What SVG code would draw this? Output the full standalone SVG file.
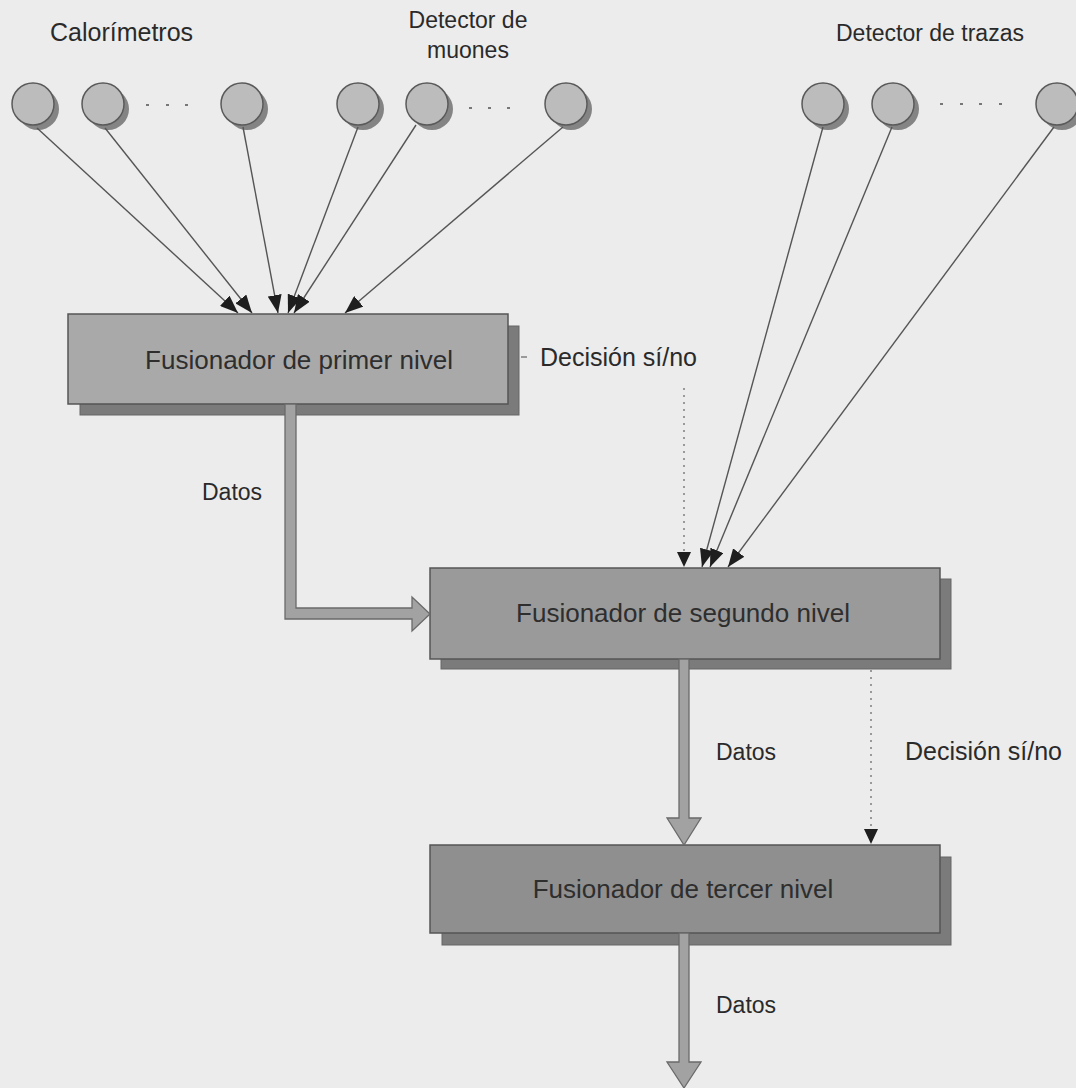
<svg xmlns="http://www.w3.org/2000/svg" width="1076" height="1088" viewBox="0 0 1076 1088">
  <defs>
    <style>
      .label { font-family: "Liberation Sans", Arial, sans-serif; font-size: 23px; fill: #2a2a2a; }
      .wide { font-size: 25px; }
      .boxtext { font-family: "Liberation Sans", Arial, sans-serif; font-size: 26px; fill: #2e2e2e; text-anchor: middle; }
      .sensor { fill: #bcbcbc; stroke: #5a5a5a; stroke-width: 1.5; }
      .sensor-shadow { fill: #848484; }
      .box { stroke: #555; stroke-width: 1.5; }
      .box-shadow { fill: #7b7b7b; stroke: #666; stroke-width: 1; }
      .feed { stroke: #555; stroke-width: 1.4; fill: none; marker-end: url(#tip); }
      .decision { stroke: #777; stroke-width: 1.4; fill: none; stroke-dasharray: 2 5; }
      .data { fill: #a2a2a2; stroke: #6a6a6a; stroke-width: 1.3; stroke-linejoin: miter; }
      .ellipsis { fill: #777; }
    </style>
    <marker id="tip" viewBox="0 0 18 14" refX="18" refY="7" markerWidth="18" markerHeight="14" markerUnits="userSpaceOnUse" orient="auto">
      <path d="M0,0 L18,7 L0,14 Z" fill="#1e1e1e"/>
    </marker>
  </defs>

  <rect x="0" y="0" width="1076" height="1088" fill="#ececec"/>

  <!-- group titles -->
  <text class="label wide" x="50" y="41">Calorímetros</text>
  <text class="label" x="468" y="28" text-anchor="middle">Detector de</text>
  <text class="label" x="468" y="58" text-anchor="middle">muones</text>
  <text class="label" x="836" y="41">Detector de trazas</text>

  <!-- calorimeter sensors -->
  <g id="cal-1"><circle class="sensor-shadow" cx="38" cy="109" r="21"/><circle class="sensor" cx="33" cy="104" r="21"/></g>
  <g id="cal-2"><circle class="sensor-shadow" cx="108" cy="109" r="21"/><circle class="sensor" cx="103" cy="104" r="21"/></g>
  <g id="cal-n"><circle class="sensor-shadow" cx="247" cy="109" r="21"/><circle class="sensor" cx="242" cy="104" r="21"/></g>
  <g class="ellipsis"><rect x="146" y="104" width="3" height="2"/><rect x="166" y="104" width="3" height="2"/><rect x="185" y="104" width="3" height="2"/></g>

  <!-- muon sensors -->
  <g id="muon-1"><circle class="sensor-shadow" cx="363" cy="109" r="21"/><circle class="sensor" cx="358" cy="104" r="21"/></g>
  <g id="muon-2"><circle class="sensor-shadow" cx="432" cy="109" r="21"/><circle class="sensor" cx="427" cy="104" r="21"/></g>
  <g id="muon-n"><circle class="sensor-shadow" cx="571" cy="109" r="21"/><circle class="sensor" cx="566" cy="104" r="21"/></g>
  <g class="ellipsis"><rect x="469" y="107" width="3" height="2"/><rect x="488" y="107" width="3" height="2"/><rect x="507" y="107" width="3" height="2"/></g>

  <!-- tracker sensors -->
  <g id="track-1"><circle class="sensor-shadow" cx="828" cy="109" r="21"/><circle class="sensor" cx="823" cy="104" r="21"/></g>
  <g id="track-2"><circle class="sensor-shadow" cx="898" cy="109" r="21"/><circle class="sensor" cx="893" cy="104" r="21"/></g>
  <g id="track-n"><circle class="sensor-shadow" cx="1062" cy="109" r="21"/><circle class="sensor" cx="1057" cy="104" r="21"/></g>
  <g class="ellipsis"><rect x="940" y="103" width="3" height="2"/><rect x="960" y="103" width="3" height="2"/><rect x="979" y="103" width="3" height="2"/><rect x="999" y="103" width="3" height="2"/></g>

  <!-- fusion stages -->
  <g id="fusion-1">
    <rect class="box-shadow" x="80" y="326" width="439" height="89"/>
    <rect class="box" x="68" y="314" width="440" height="90" fill="#a9a9a9"/>
    <text class="boxtext" x="299" y="369">Fusionador de primer nivel</text>
  </g>
  <g id="fusion-2">
    <rect class="box-shadow" x="441" y="579" width="510" height="90"/>
    <rect class="box" x="430" y="568" width="510" height="91" fill="#9a9a9a"/>
    <text class="boxtext" x="683" y="622">Fusionador de segundo nivel</text>
  </g>
  <g id="fusion-3">
    <rect class="box-shadow" x="442" y="857" width="509" height="88"/>
    <rect class="box" x="430" y="845" width="510" height="88" fill="#8f8f8f"/>
    <text class="boxtext" x="683" y="898">Fusionador de tercer nivel</text>
  </g>

  <!-- labels on connectors -->
  <text class="label wide" x="540" y="366">Decisión sí/no</text>
  <text class="label" x="202" y="500">Datos</text>
  <text class="label" x="716" y="760">Datos</text>
  <text class="label wide" x="905" y="760">Decisión sí/no</text>
  <text class="label" x="716" y="1013">Datos</text>

  <!-- connectors -->
  <g id="connectors">
    <line class="feed" x1="37" y1="128" x2="238" y2="313"/>
    <line class="feed" x1="105" y1="128" x2="252" y2="313"/>
    <line class="feed" x1="243" y1="127" x2="278" y2="313"/>
    <line class="feed" x1="358" y1="127" x2="288" y2="313"/>
    <line class="feed" x1="416" y1="125" x2="294" y2="313"/>
    <line class="feed" x1="563" y1="127" x2="345" y2="313"/>

    <line class="feed" x1="823" y1="127" x2="702" y2="567"/>
    <line class="feed" x1="892" y1="127" x2="710" y2="567"/>
    <line class="feed" x1="1054" y1="127" x2="728" y2="567"/>

    <line x1="521" y1="357" x2="527" y2="357" stroke="#777" stroke-width="1.4"/>
    <line class="decision" x1="684" y1="388" x2="684" y2="552"/>
    <path d="M677,552 L691,552 L684,567 Z" fill="#1e1e1e"/>
    <line class="decision" x1="871" y1="670" x2="871" y2="829"/>
    <path d="M864,829 L878,829 L871,844 Z" fill="#1e1e1e"/>

    <path class="data" d="M285,404 L285,619 L412,619 L412,631 L430,614 L412,597 L412,608 L296,608 L296,404 Z"/>
    <path class="data" d="M679,659 L679,818 L667,818 L684,845 L701,818 L689,818 L689,659 Z"/>
    <path class="data" d="M679,933 L679,1062 L667,1062 L684,1088 L701,1062 L689,1062 L689,933 Z"/>
  </g>
</svg>
